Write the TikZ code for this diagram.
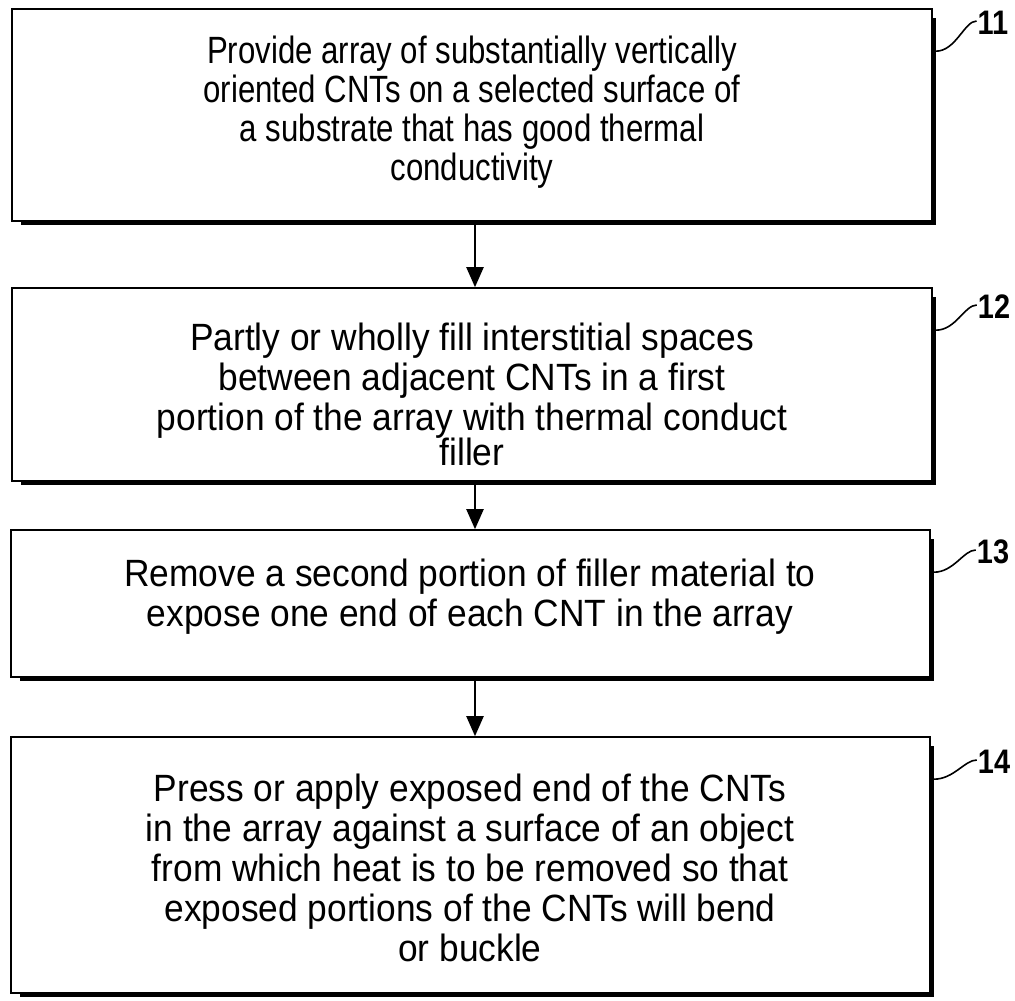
\documentclass[tikz,border=0pt]{standalone}
\usepackage{fontspec}
\setmainfont{Liberation Sans}
\newfontfamily\boxfont{Liberation Sans}[FakeStretch=0.93]
\newfontfamily\narrowboxfont{Liberation Sans}[FakeStretch=0.82]
\newfontfamily\labelfont{Liberation Sans}[FakeStretch=0.85]
\usetikzlibrary{arrows.meta}
\begin{document}
\begin{tikzpicture}[x=1pt,y=-1pt,
  stepbox/.style={draw,line width=1.6pt,rectangle,inner sep=0pt},
  txt/.style={align=center,font=\boxfont\fontsize{38}{40}\selectfont,inner sep=0pt},
  txtnarrow/.style={align=center,font=\narrowboxfont\fontsize{38}{39}\selectfont,inner sep=0pt},
  flow/.style={line width=2.2pt,-{Triangle[length=20pt,width=17pt]}},
  lbl/.style={font=\labelfont\bfseries\fontsize{34}{34}\selectfont,inner sep=0pt},
  lead/.style={line width=1.6pt}]
\useasboundingbox (0,0) rectangle (1015,1001);
% boxes
\node[stepbox,minimum width=920pt,minimum height=212pt] (b1) at (472,115) {};
\node[stepbox,minimum width=920pt,minimum height=193pt] (b2) at (472,384.5) {};
\node[stepbox,minimum width=919pt,minimum height=147pt] (b3) at (470.5,603.5) {};
\node[stepbox,minimum width=919pt,minimum height=256pt] (b4) at (470.5,865) {};
% heavy bottom and right edges
\foreach \b in {b1,b2,b3,b4}{
  \draw[line width=4pt] ([xshift=10pt,yshift=-1.5pt]\b.south west) -- ([xshift=1.5pt,yshift=-1.5pt]\b.south east) -- ([xshift=1.5pt,yshift=-10pt]\b.north east);
}
% texts
\node[txtnarrow] (t1) at (472,112) {Provide array of substantially vertically\\oriented CNTs on a selected surface of\\a substrate that has good thermal\\conductivity};
\node[txt] (t2) at (472,394) {Partly or wholly fill interstitial spaces\\between adjacent CNTs in a first\\portion of the array with thermal conduct\\[-5pt]filler};
\node[txt] (t3) at (470,597) {Remove a second portion of filler material to\\expose one end of each CNT in the array};
\node[txt] (t4) at (470,868) {Press or apply exposed end of the CNTs\\in the array against a surface of an object\\from which heat is to be removed so that\\exposed portions of the CNTs will bend\\or buckle};
% arrows
\draw[flow] (b1.south -| 475,0) -- (b2.north -| 475,0);
\draw[flow] (b2.south -| 475,0) -- (b3.north -| 475,0);
\draw[flow] (b3.south -| 475,0) -- (b4.north -| 475,0);
% labels
\node[lbl] (l1) at (993,23) {11};
\node[lbl] (l2) at (994,307) {12};
\node[lbl] (l3) at (993,552) {13};
\node[lbl] (l4) at (994,762) {14};
\foreach \b/\l in {b1/l1,b2/l2,b3/l3,b4/l4}{
  \draw[lead] ([xshift=3pt,yshift=-43pt]\b.north east) .. controls +(20,0) and +(-12,0) .. ([xshift=-1pt,yshift=2pt]\l.west);
}
\end{tikzpicture}
\end{document}
